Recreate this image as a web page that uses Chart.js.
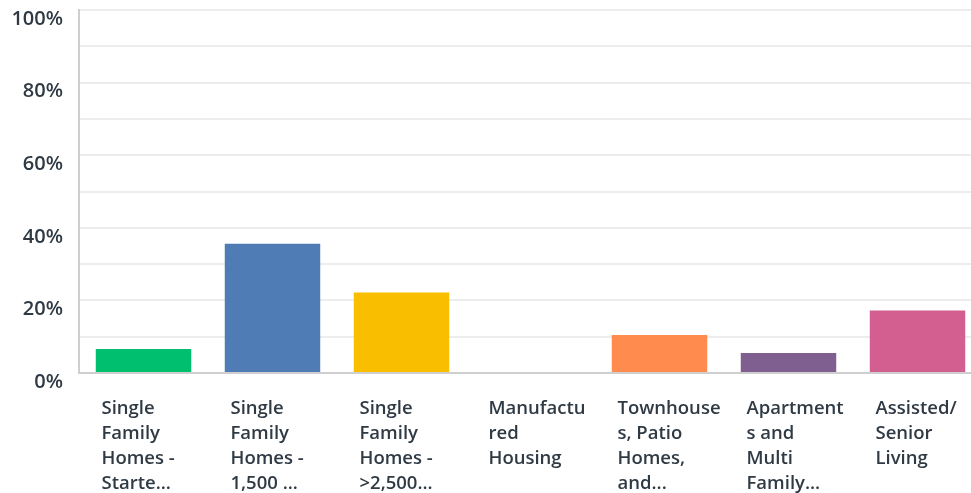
<!DOCTYPE html>
<html>
<head>
<meta charset="utf-8">
<script src="https://cdn.jsdelivr.net/npm/chart.js@4/dist/chart.umd.min.js"></script>
<style>
  html, body { margin: 0; padding: 0; background: #fff; overflow: hidden; }
  #wrap { position: relative; width: 986px; height: 493px; }
</style>
</head>
<body>
<div id="wrap"><canvas id="housingChart"></canvas></div>
<script>
// Chart data
const categories = [
    ['Single', 'Family', 'Homes -', 'Starte...'],
    ['Single', 'Family', 'Homes -', '1,500 ...'],
    ['Single', 'Family', 'Homes -', '>2,500...'],
    ['Manufactu', 'red', 'Housing'],
    ['Townhouse', 's, Patio', 'Homes,', 'and...'],
    ['Apartment', 's and', 'Multi', 'Family...'],
    ['Assisted/', 'Senior', 'Living']
];
const responses = [6.6, 35.6, 22.2, 0, 10.5, 5.5, 17.2];
const barColors = ['#00bf6f', '#507cb6', '#f9be00', '#6bc8cd', '#ff8b4f', '#7f5f90', '#d25f90'];
const yTickValues = [0, 20, 40, 60, 80, 100];

const textColor = '#2f3a44';
const labelFont = '600 18.5px "Open Sans"';
const yLabelFont = '600 20px "Open Sans"';

// Draws category and percent labels using the chart's own scales
const labelPlugin = {
    id: 'labelPlugin',
    afterDraw(chart) {
        const ctx = chart.ctx;
        const x = chart.scales.x;
        const y = chart.scales.y;
        ctx.save();
        ctx.fillStyle = textColor;

        // y axis labels
        ctx.font = yLabelFont;
        ctx.textAlign = 'right';
        ctx.textBaseline = 'middle';
        yTickValues.forEach(v => {
            ctx.fillText(v + '%', 63, y.getPixelForValue(v) + 9);
        });

        // category labels
        ctx.font = labelFont;
        ctx.textAlign = 'left';
        ctx.textBaseline = 'top';
        categories.forEach((lines, i) => {
            const cx = x.getPixelForValue(i) - 42;
            lines.forEach((line, j) => {
                ctx.fillText(line, cx, chart.chartArea.bottom + 26 + j * 25);
            });
        });
        ctx.restore();
    }
};

function initializeChart() {
    const ctx = document.getElementById('housingChart').getContext('2d');
    return new Chart(ctx, {
        type: 'bar',
        data: {
            labels: categories.map(c => c.join(' ')),
            datasets: [{
                data: responses,
                backgroundColor: barColors,
                borderWidth: 0,
                categoryPercentage: 1,
                barPercentage: 0.74
            }]
        },
        options: {
            responsive: true,
            maintainAspectRatio: false,
            animation: false,
            layout: {
                padding: { left: 79, top: 10, right: 4, bottom: 112 }
            },
            plugins: {
                legend: { display: false },
                tooltip: { enabled: false }
            },
            scales: {
                x: {
                    grid: { display: false },
                    border: { display: true, color: '#cfcfcf', width: 2 },
                    ticks: { display: false }
                },
                y: {
                    min: 0,
                    max: 100,
                    ticks: { display: false, stepSize: 10 },
                    grid: { color: '#ededed', lineWidth: 2, drawTicks: false },
                    border: { display: true, color: '#cfcfcf', width: 2 }
                }
            }
        },
        plugins: [labelPlugin]
    });
}

initializeChart();
</script>
</body>
</html>
